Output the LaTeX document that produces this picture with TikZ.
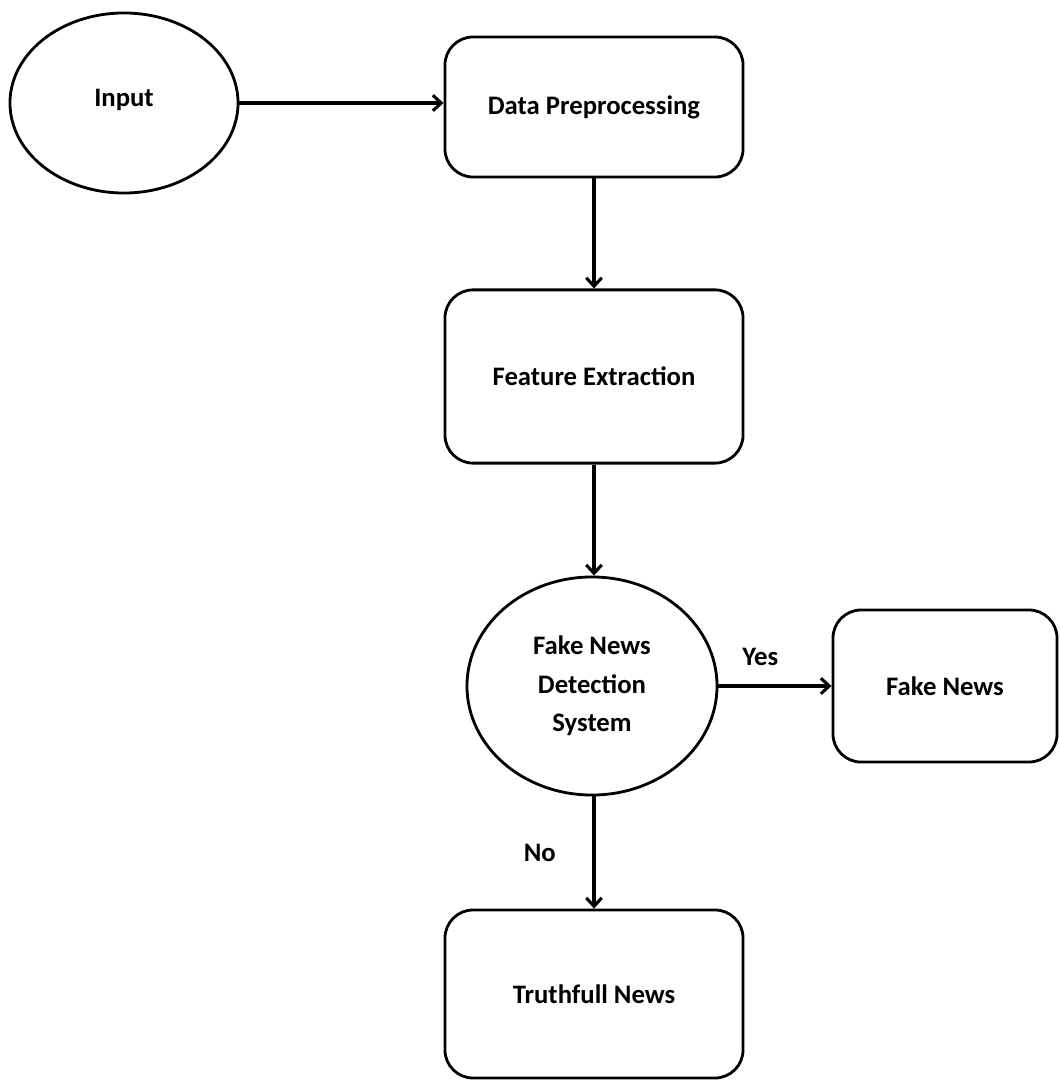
\documentclass[tikz,border=0pt]{standalone}
\usepackage{fontspec}
\setmainfont{Carlito}
\usetikzlibrary{shapes.geometric,arrows.meta}
\begin{document}
\begin{tikzpicture}[x=0.025cm, y=-0.025cm,
  every node/.style={font=\fontsize{19}{27.5}\selectfont\bfseries},
  stagebox/.style={draw, line width=2pt, rounded corners=20pt, align=center},
  roundnode/.style={draw, ellipse, line width=2pt, align=center},
  flow/.style={draw, line width=2.2pt, -{Straight Barb[length=6pt, width=11pt]}}]
  \useasboundingbox (0, 0) rectangle (1059, 1082);

  % Input
  \node[roundnode, minimum width=5.7cm, minimum height=4.5cm] (input) at (124, 103) {\raisebox{7pt}{Input}};

  % Processing stages
  \node[stagebox, minimum width=7.45cm, minimum height=3.5cm] (prep) at (594, 107) {Data Preprocessing};
  \node[stagebox, minimum width=7.45cm, minimum height=4.33cm] (feat) at (594, 376.5) {Feature Extraction};

  % Detection system
  \node[roundnode, minimum width=6.25cm, minimum height=5.45cm] (detect) at (592, 686) {Fake News\\Detection\\System};

  % Outcomes
  \node[stagebox, minimum width=5.6cm, minimum height=3.8cm] (fake) at (945, 686) {Fake News};
  \node[stagebox, minimum width=7.45cm, minimum height=4.2cm] (truth) at (594, 994) {Truthfull News};

  % Connectors
  \path[flow] (input.east) -- (input.east -| prep.west);
  \path[flow] (prep.south) -- (feat.north);
  \path[flow] (feat.south) -- (feat.south |- detect.north);
  \path[flow] (detect.east) -- node[pos=0.37, above=0.35cm] (yes) {Yes} (fake.west);
  \path[flow] (detect.south -| truth.north) -- node[left=0.8cm] (no) {No} (truth.north);
\end{tikzpicture}
\end{document}
